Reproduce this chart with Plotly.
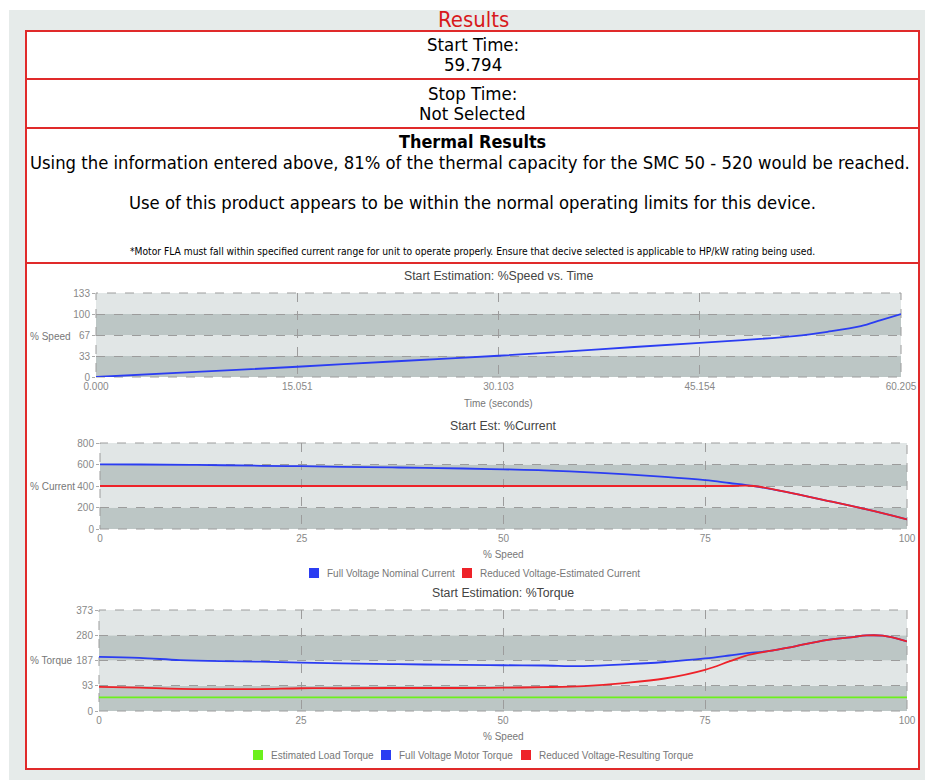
import plotly.graph_objects as go

# ---- data -------------------------------------------------------------
speed_time = [0, 7.5, 15.051, 22.5, 30.103, 37.6, 45.154, 48.4, 52.2, 54.7, 57.2, 58.7, 60.205]
speed_pct = [0, 8, 16.3, 25, 33.7, 44, 54.3, 58.6, 64.9, 71.7, 80.7, 90.3, 100]
time_ticks = [0, 15.051, 30.103, 45.154, 60.205]
speed_ticks = [0, 33.33, 66.67, 100, 133.33]
speed_tick_text = ["0", "33", "67", "100", "133"]

cur_speed = [0, 5, 12, 20, 25, 30, 37, 45, 50, 55, 62, 70, 75, 78, 81, 85, 90, 95, 100]
full_current = [602, 600, 596, 588, 584, 578, 572, 563, 555, 546, 522, 485, 455, 428, 400, 345, 265, 182, 90]
reduced_current = [400, 400, 400, 400, 400, 400, 400, 400, 400, 400, 400, 400, 400, 400, 400, 345, 265, 182, 90]
current_ticks = [0, 200, 400, 600, 800]

tq_speed = [0, 5, 10, 15, 20, 25, 30, 37, 45, 50, 55, 60, 65, 70, 75, 78, 80, 83, 86, 90, 93, 95, 97, 100]
load_torque = [50] * 24
full_torque = [200, 196, 188, 184, 182, 179, 176, 173, 170, 169, 168, 166, 172, 181, 194, 205, 213, 222, 238, 262, 272, 279, 278, 257]
reduced_torque = [89, 86, 82, 81, 81, 84, 84, 85, 85, 86, 88, 92, 103, 120, 152, 183, 204, 222, 238, 262, 272, 279, 278, 257]
torque_ticks = [0, 93.25, 186.5, 279.75, 373]
torque_tick_text = ["0", "93", "187", "280", "373"]
pct_ticks = [0, 25, 50, 75, 100]

# ---- page geometry helpers (pixels -> paper) --------------------------
W, H = 925, 780
def px(x):
    return x / W
def py(y):
    return 1 - y / H

BLUE = "#2b3df2"
RED = "#ee2229"
GREEN = "#6cf01c"
BORDER = "#e02a2a"
DARK_BAND = "#bcc6c5"
LIGHT_BAND = "#e1e6e6"
GRID = "#9c9c9c"
TXT_FONT = "DejaVu Sans Condensed, DejaVu Sans, sans-serif"
CH_FONT = "Liberation Sans, Arial, sans-serif"

fig = go.Figure()

fig.add_trace(go.Scatter(x=speed_time, y=speed_pct, mode="lines", line=dict(color=BLUE, width=1.8, shape="spline"),
                         xaxis="x", yaxis="y", showlegend=False))
fig.add_trace(go.Scatter(x=cur_speed, y=full_current, mode="lines", line=dict(color=BLUE, width=1.8, shape="spline"),
                         xaxis="x2", yaxis="y2", showlegend=False))
fig.add_trace(go.Scatter(x=cur_speed, y=reduced_current, mode="lines", line=dict(color=RED, width=1.8, shape="spline"),
                         xaxis="x2", yaxis="y2", showlegend=False))
fig.add_trace(go.Scatter(x=tq_speed, y=load_torque, mode="lines", line=dict(color=GREEN, width=1.8),
                         xaxis="x3", yaxis="y3", showlegend=False))
fig.add_trace(go.Scatter(x=tq_speed, y=full_torque, mode="lines", line=dict(color=BLUE, width=1.8, shape="spline"),
                         xaxis="x3", yaxis="y3", showlegend=False))
fig.add_trace(go.Scatter(x=tq_speed, y=reduced_torque, mode="lines", line=dict(color=RED, width=1.8, shape="spline"),
                         xaxis="x3", yaxis="y3", showlegend=False))

shapes = []
# page background and result boxes
shapes.append(dict(type="rect", xref="paper", yref="paper", x0=px(9), x1=px(925), y0=py(780), y1=py(10),
                   fillcolor="#e6ebea", line=dict(width=0), layer="below"))
for top, bot in [(31, 79), (79, 128), (128, 263), (263, 769)]:
    shapes.append(dict(type="rect", xref="paper", yref="paper", x0=px(26), x1=px(919), y0=py(bot), y1=py(top),
                       fillcolor="white", line=dict(color=BORDER, width=2), layer="below"))

# alternating horizontal bands and dashed frame for each chart
for ax, ticks in [("", speed_ticks), ("2", current_ticks), ("3", torque_ticks)]:
    for i in range(len(ticks) - 1):
        shapes.append(dict(type="rect", xref="x%s domain" % ax, yref="y%s" % ax, x0=0, x1=1,
                           y0=ticks[i], y1=ticks[i + 1],
                           fillcolor=DARK_BAND if i % 2 == 0 else LIGHT_BAND, line=dict(width=0), layer="below"))
    shapes.append(dict(type="rect", xref="x%s domain" % ax, yref="y%s domain" % ax, x0=0, x1=1, y0=0, y1=1,
                       line=dict(color=GRID, width=1, dash="dash"), layer="below"))

# legend keys
legend_keys = [(309, 573, BLUE), (462, 573, RED), (253, 755, GREEN), (381, 755, BLUE), (521, 755, RED)]
for kx, ky, col in legend_keys:
    shapes.append(dict(type="rect", xref="paper", yref="paper", x0=px(kx), x1=px(kx + 10),
                       y0=py(ky + 5), y1=py(ky - 5), fillcolor=col, line=dict(width=0)))

ann = []
def text(x, y, s, size, color="#000000", font=TXT_FONT, anchor="center"):
    ann.append(dict(x=px(x), y=py(y), xref="paper", yref="paper", text=s, showarrow=False,
                    xanchor=anchor, yanchor="middle", font=dict(family=font, size=size, color=color)))

text(473, 19, "Results", 22, color="#d8191c")
text(472.5, 44, "Start Time:", 18.5)
text(472.5, 64, "59.794", 18.5)
text(472.5, 93, "Stop Time:", 18.5)
text(472.5, 113, "Not Selected", 18.5)
text(472.5, 141, "<b>Thermal Results</b>", 17.9)
text(470, 162, "Using the information entered above, 81% of the thermal capacity for the SMC 50 - 520 would be reached.", 18.3)
text(472.5, 203, "Use of this product appears to be within the normal operating limits for this device.", 18.3)
text(472.5, 252, "*Motor FLA must fall within specified current range for unit to operate properly. Ensure that decive selected is applicable to HP/kW rating being used.", 10.2)

# chart titles and axis labels
text(498.5, 276, "Start Estimation: %Speed vs. Time", 12.3, color="#444444", font=CH_FONT)
text(503.5, 426, "Start Est: %Current", 12.3, color="#444444", font=CH_FONT)
text(503, 593, "Start Estimation: %Torque", 12.3, color="#444444", font=CH_FONT)
text(498.5, 403, "Time (seconds)", 10, color="#777777", font=CH_FONT)
text(503.5, 554, "% Speed", 10, color="#777777", font=CH_FONT)
text(503, 736, "% Speed", 10, color="#777777", font=CH_FONT)
text(73, 336, "% Speed", 10, color="#777777", font=CH_FONT, anchor="right")
text(77, 486, "% Current", 10, color="#777777", font=CH_FONT, anchor="right")
text(75, 660, "% Torque", 10, color="#777777", font=CH_FONT, anchor="right")

# legend labels
text(325, 573, "Full Voltage Nominal Current", 10, color="#777777", font=CH_FONT, anchor="left")
text(478, 573, "Reduced Voltage-Estimated Current", 10, color="#777777", font=CH_FONT, anchor="left")
text(269, 755, "Estimated Load Torque", 10, color="#777777", font=CH_FONT, anchor="left")
text(397, 755, "Full Voltage Motor Torque", 10, color="#777777", font=CH_FONT, anchor="left")
text(537, 755, "Reduced Voltage-Resulting Torque", 10, color="#777777", font=CH_FONT, anchor="left")

tickfont = dict(family=CH_FONT, size=10, color="#888888")
def xaxis(dom_l, dom_r, anchor, rng, vals, txt):
    return dict(domain=[px(dom_l), px(dom_r)], anchor=anchor, range=rng, tickvals=vals, ticktext=txt,
                showgrid=True, gridcolor=GRID, griddash="dash", gridwidth=1, zeroline=False, showline=False,
                ticks="", ticklabelstandoff=2, tickfont=tickfont, fixedrange=True, automargin=False)
def yaxis(top, bot, anchor, rng, vals, txt):
    return dict(domain=[py(bot), py(top)], anchor=anchor, range=rng, tickvals=vals, ticktext=txt,
                showgrid=True, gridcolor=GRID, griddash="dash", gridwidth=1, zeroline=False, showline=False,
                ticks="outside", ticklen=3, tickcolor="#aaaaaa", tickfont=tickfont, fixedrange=True,
                automargin=False)

fig.update_layout(
    width=W, height=H, margin=dict(l=0, r=0, t=0, b=0, pad=0, autoexpand=False),
    paper_bgcolor="white", plot_bgcolor="rgba(0,0,0,0)",
    showlegend=False,
    shapes=shapes, annotations=ann,
    xaxis=xaxis(96, 901, "y", [0, 60.205], time_ticks, ["%.3f" % t for t in time_ticks]),
    yaxis=yaxis(293, 377, "x", [0, 133.33], speed_ticks, speed_tick_text),
    xaxis2=xaxis(100, 907, "y2", [0, 100], pct_ticks, [str(v) for v in pct_ticks]),
    yaxis2=yaxis(443, 529, "x2", [0, 800], current_ticks, [str(v) for v in current_ticks]),
    xaxis3=xaxis(99, 907, "y3", [0, 100], pct_ticks, [str(v) for v in pct_ticks]),
    yaxis3=yaxis(610, 711, "x3", [0, 373], torque_ticks, torque_tick_text),
)

# the page body carries no margin so the figure fills the window exactly
fig.write_html(
    "out.html",
    config={"displayModeBar": False},
    post_script="document.body.style.margin='0';document.documentElement.style.overflow='hidden';",
)
